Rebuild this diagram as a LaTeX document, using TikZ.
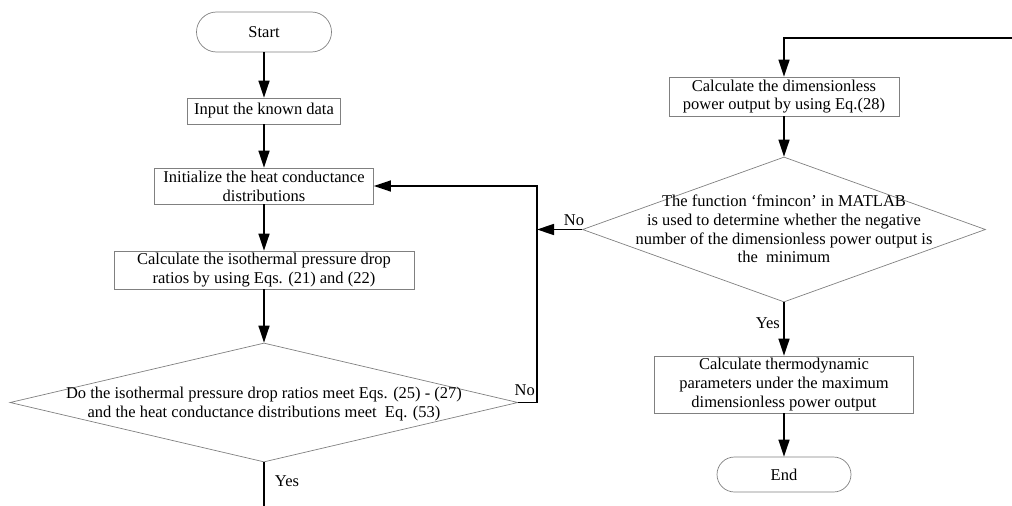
\documentclass[tikz,border=0pt]{standalone}
\usepackage{fontspec}
\setmainfont{Liberation Serif}
\usetikzlibrary{arrows.meta,shapes.geometric}

\begin{document}
\begin{tikzpicture}[x=1pt,y=-1pt,
  font=\fontsize{16.5}{18.8}\selectfont,
  box/.style={draw=gray,line width=0.7pt,rectangle,inner sep=0pt,align=center},
  term/.style={draw=gray,line width=0.7pt,rectangle,inner sep=0pt},
  dec/.style={draw=gray,line width=0.7pt,diamond,inner sep=0pt},
  txt/.style={align=center,inner sep=0pt},
  flow/.style={line width=1.5pt,-{Triangle[length=17pt,width=11pt]}},
  plain/.style={line width=1.5pt}]
 \useasboundingbox (0,0) rectangle (1012,506);
 % left column
 \node[term,minimum width=135pt,minimum height=40pt,rounded corners=20pt] (start) at (264,32) {Start};
 \node[box,minimum width=153pt,minimum height=26pt] (input) at (264,111) {Input the known data};
 \node[box,minimum width=219pt,minimum height=36pt] (init) at (264,186) {Initialize the heat conductance\\distributions};
 \node[box,minimum width=300pt,minimum height=38pt] (ratio) at (264,270) {Calculate the isothermal pressure drop\\ratios by using Eqs. (21) and (22)};
 \node[dec,minimum width=508pt,minimum height=119pt] (check) at (264,402.5) {};
 \node[txt] (checktxt) at (264,404) {Do the isothermal pressure drop ratios meet Eqs. (25) - (27)\\and the heat conductance distributions meet\ \ Eq. (53)};
 \coordinate (out) at (264,506);
 \coordinate (loopx) at (537,402.5);
 \draw[flow] (start) -- (input);
 \draw[flow] (input) -- (init);
 \draw[flow] (init) -- (ratio);
 \draw[flow] (ratio) -- (check.north);
 \draw[plain] (check.south) -- (out);
 \node (yes1) at (287,481) {Yes};
 \draw[flow] (check.east) -- (loopx) |- (init.east);
 \node[anchor=east,inner sep=1pt] (no1) at (536,390) {No};
 % right column
 \coordinate (feed) at (1012,38);
 \node[box,minimum width=230pt,minimum height=39pt] (power) at (784,96.5) {Calculate the dimensionless\\power output by using Eq.(28)};
 \node[dec,minimum width=403pt,minimum height=145pt] (opt) at (784,229.5) {};
 \node[txt] (opttxt) at (784,229) {The function `fmincon' in MATLAB\\is used to determine whether the negative\\number of the dimensionless power output is\\the\ \ minimum};
 \node[box,minimum width=259pt,minimum height=57pt] (thermo) at (784,384.5) {Calculate thermodynamic\\parameters under the maximum\\dimensionless power output};
 \node[term,minimum width=134pt,minimum height=35pt,rounded corners=17.5pt] (end) at (784,474.5) {End};
 \draw[flow] (feed) -| (power.north);
 \draw[flow] (power) -- (opt.north);
 \draw[flow] (opt.west) -- (opt.west -| loopx);
 \node (no2) at (574,220) {No};
 \draw[flow] (opt.south) -- (thermo.north);
 \node[anchor=east,inner sep=1pt] (yes2) at (781,323) {Yes};
 \draw[flow] (thermo) -- (end);
\end{tikzpicture}
\end{document}
